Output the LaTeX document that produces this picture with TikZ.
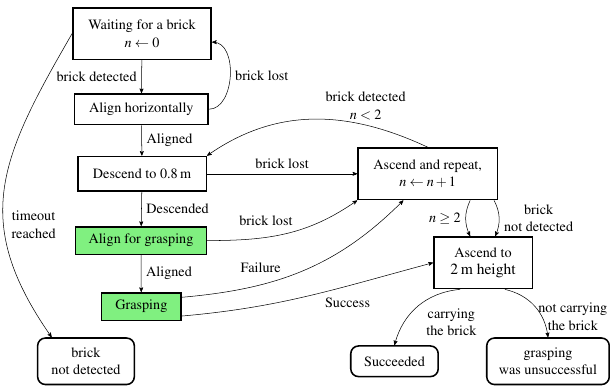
\documentclass[tikz,border=0pt,11pt]{standalone}
\usepackage[T1]{fontenc}
\usepackage{mathptmx}
\usetikzlibrary{arrows}
\definecolor{graspgreen}{RGB}{128,240,128}
\tikzset{
  stbox/.style={draw, line width=1.2pt, align=center, inner sep=2pt},
  greenbox/.style={stbox, fill=graspgreen},
  endbox/.style={stbox, rounded corners=6pt},
}

\begin{document}
\begin{tikzpicture}[auto,>=stealth']
				\useasboundingbox (0,0) rectangle (16.53,10.49);
				\node[stbox, minimum width=3.75cm, minimum height=1.4cm] (wait) at (3.85,9.58) {Waiting for a brick\\$n \leftarrow 0$};
				\node[stbox, minimum width=3.62cm, minimum height=0.83cm] (alignh) at (3.83,7.53) {Align horizontally};
				\node[stbox, minimum width=3.48cm, minimum height=0.94cm] (descend) at (3.85,5.78) {Descend to 0.8\,m};
				\node[greenbox, minimum width=3.54cm, minimum height=0.75cm] (alignG) at (3.82,3.97) {Align for grasping};
				\node[greenbox, minimum width=2.16cm, minimum height=0.75cm] (grasp) at (3.83,2.18) {Grasping};
				\node[endbox, minimum width=2.62cm, minimum height=1.26cm] (notdet) at (2.33,0.70) {brick\\not detected};
				\node[stbox, minimum width=3.78cm, minimum height=1.4cm] (repeat) at (11.59,5.78) {Ascend and repeat,\\$n \leftarrow n+1$};
				\node[stbox, minimum width=2.67cm, minimum height=1.4cm] (up) at (13.09,3.37) {Ascend to\\{\large 2\,m height}};
				\node[endbox, minimum width=2.37cm, minimum height=0.83cm] (done) at (10.69,0.70) {Succeeded};
				\node[endbox, minimum width=3.32cm, minimum height=1.26cm] (fail) at (14.85,0.70) {grasping\\was unsuccessful};
				\draw[->] (wait) to node[swap]{brick detected} (alignh);
				\draw[->] (alignh.east) to[out=0,in=0] node[swap]{brick lost} (wait.-7);
				\draw[->] (alignh) to node{Aligned} (descend);
				\draw[->] (descend) to node{Descended} (alignG);
				\draw[->] (alignG) to node{Aligned} (grasp);
				\draw[->] (wait.west) to[out=240,in=125,looseness=1.2] node[pos=0.7,align=center]{timeout\\reached} (notdet.145);
				\draw[->] (descend) to node{brick lost} (repeat);
				\draw[->] (repeat.north) to[out=155,in=35] node[pos=0.27,anchor=south,align=center]{brick detected\\$n<2$} (descend.north east);
				\draw[->] (alignG.east) to[out=0,in=215] node[pos=0.58]{brick lost} (repeat.south west);
				\draw[->] (grasp.13) to[out=5,in=225] node[pos=0.42]{Failure} ([xshift=-0.66cm]repeat.south);
				\draw[->] (grasp.-13) to[out=5,in=195] node[swap,pos=0.55]{Success} (up.west);
				\draw[->] ([xshift=1.15cm]repeat.south) to[bend right=25] node[swap]{$n \geq 2$} ([xshift=-0.35cm]up.north);
				\draw[->] ([xshift=1.8cm]repeat.south) to[bend left=25] node[align=center]{brick\\not detected} ([xshift=0.33cm]up.north);
				\draw[->] ([xshift=-0.62cm]up.south) to[bend right=35] node[pos=0.45,align=center]{carrying\\the brick} (done.north);
				\draw[->] ([xshift=0.59cm]up.south) to[bend left=35] node[pos=0.7,anchor=west,inner sep=0pt,xshift=-3pt,align=center]{not carrying\\the brick} (fail.north);
			\end{tikzpicture}
\end{document}
